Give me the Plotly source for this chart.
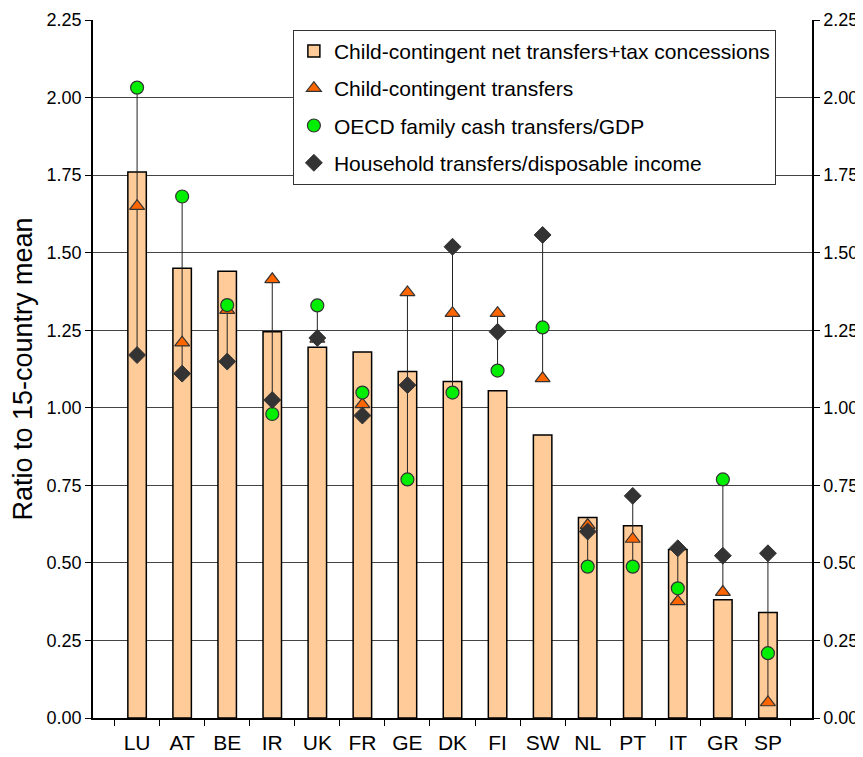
import plotly.graph_objects as go

countries = ['LU', 'AT', 'BE', 'IR', 'UK', 'FR', 'GE', 'DK', 'FI', 'SW', 'NL', 'PT', 'IT', 'GR', 'SP']

# bars: child-contingent net transfers + tax concessions
net_plus_tax = [1.76, 1.45, 1.44, 1.245, 1.195, 1.18, 1.117, 1.085, 1.055, 0.912,
                0.646, 0.620, 0.543, 0.381, 0.340]
# markers
cc_transfers = [1.65, 1.21, 1.315, 1.414, 1.222, 1.011, 1.372, 1.305, 1.305, 1.095,
                0.622, 0.577, 0.376, 0.406, 0.050]
oecd_cash = [2.032, 1.681, 1.331, 0.980, 1.330, 1.049, 0.769, 1.049, 1.120, 1.259,
             0.488, 0.488, 0.418, 0.769, 0.209]
hh_transfers = [1.170, 1.110, 1.149, 1.025, 1.225, 0.975, 1.073, 1.519, 1.245, 1.557,
                0.601, 0.716, 0.547, 0.523, 0.531]

# high-low lines linking the three marker series
hl_x, hl_y = [], []
for c, a, b, d in zip(countries, cc_transfers, oecd_cash, hh_transfers):
    hl_x += [c, c, None]
    hl_y += [min(a, b, d), max(a, b, d), None]

font_family = 'Liberation Sans, Arial, sans-serif'

fig = go.Figure()
fig.add_trace(go.Bar(
    x=countries, y=net_plus_tax, name='Child-contingent net transfers+tax concessions',
    marker=dict(color='#FFCC99', line=dict(color='#000000', width=1.5)),
    width=0.41, legendgroup='a'))
fig.add_trace(go.Scatter(
    x=hl_x, y=hl_y, mode='lines', line=dict(color='#222222', width=1),
    showlegend=False, hoverinfo='skip'))
fig.add_trace(go.Scatter(
    x=countries, y=cc_transfers, mode='markers', name='Child-contingent transfers',
    marker=dict(symbol='triangle-up', size=13, color='#FF6600', line=dict(color='#333333', width=1.2)),
    legendgroup='b'))
fig.add_trace(go.Scatter(
    x=countries, y=oecd_cash, mode='markers', name='OECD family cash transfers/GDP',
    marker=dict(symbol='circle', size=13, color='#00EE00', line=dict(color='#333333', width=1.2)),
    legendgroup='c'))
fig.add_trace(go.Scatter(
    x=countries, y=hh_transfers, mode='markers', name='Household transfers/disposable income',
    marker=dict(symbol='diamond', size=13, color='#333333', line=dict(color='#333333', width=1)),
    legendgroup='d'))
# invisible trace to anchor the right-hand axis
fig.add_trace(go.Scatter(x=countries, y=net_plus_tax, yaxis='y2', mode='markers',
                         marker=dict(opacity=0), showlegend=False, hoverinfo='skip'))

yticks = dict(range=[0, 2.25], dtick=0.25, tickformat='.2f', ticks='outside', ticklen=6,
              tickcolor='#000000', showline=True, linecolor='#000000', linewidth=1.5,
              tickfont=dict(size=18, color='#000000'), zeroline=False, automargin=False)

# page body adds an 8px offset, so the figure is a bit smaller and shifted
fig.update_layout(
    width=855, height=749,
    margin=dict(l=85, r=51, t=12, b=39),
    plot_bgcolor='white',
    paper_bgcolor='white',
    font=dict(family=font_family, color='#000000'),
    xaxis=dict(
        ticks='outside', tickson='boundaries', ticklen=6, tickcolor='#000000',
        showline=True, linecolor='#000000', linewidth=1.5, tickangle=0,
        tickfont=dict(size=21), ticklabelstandoff=5, showgrid=False, automargin=False,
    ),
    yaxis=dict(
        **yticks, showgrid=True, gridcolor='#444444', gridwidth=1,
        title=dict(text='Ratio to 15-country mean', font=dict(size=27), standoff=6),
    ),
    yaxis2=dict(**yticks, overlaying='y', side='right', showgrid=False),
    legend=dict(
        x=0.278, y=0.986, xanchor='left', yanchor='top',
        bgcolor='white', bordercolor='#333333', borderwidth=1,
        font=dict(size=21), tracegroupgap=7, traceorder='grouped',
    ),
    showlegend=True,
)

fig.write_html('out.html')
